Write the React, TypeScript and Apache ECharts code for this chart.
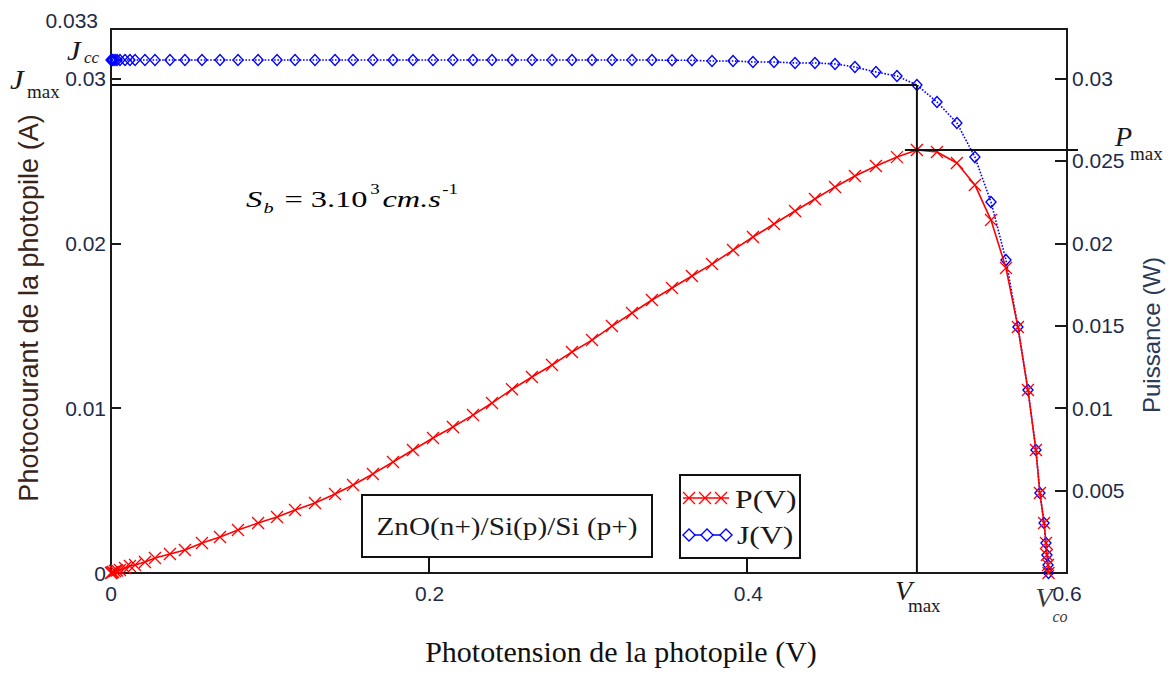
import React, { useEffect, useRef } from "react";
import * as echarts from "echarts";

// Phototension (V)
const voltage = [
  0.0, 0.0006, 0.0013, 0.0025, 0.0038, 0.0056, 0.0088, 0.0119, 0.0151, 0.0213,
  0.0276, 0.037, 0.0464, 0.0571, 0.0684, 0.0797, 0.0923, 0.1042, 0.1155, 0.128,
  0.1406, 0.1519, 0.1644, 0.177, 0.1895, 0.2021, 0.2146, 0.2272, 0.2391, 0.2517,
  0.2642, 0.2768, 0.2893, 0.3019, 0.3144, 0.327, 0.3395, 0.3521, 0.3646, 0.3772,
  0.3904, 0.4029, 0.4161, 0.4293, 0.4418, 0.4544, 0.4669, 0.4801, 0.4933, 0.5058,
  0.5184, 0.5309, 0.5422, 0.5523, 0.5617, 0.5692, 0.5755, 0.5805, 0.583, 0.5856,
  0.5868, 0.5874, 0.5881, 0.5884,
];
// Photocourant J (A)
const current = [
  0.03112, 0.03112, 0.03112, 0.03112, 0.03112, 0.03112, 0.03112, 0.03112, 0.03112, 0.03112,
  0.03112, 0.03112, 0.03112, 0.03112, 0.03112, 0.03112, 0.03112, 0.03112, 0.03112, 0.03112,
  0.03112, 0.03112, 0.03112, 0.03112, 0.03112, 0.03112, 0.03112, 0.03112, 0.03112, 0.03112,
  0.03112, 0.03112, 0.03112, 0.03112, 0.03112, 0.03112, 0.03112, 0.0311, 0.0311, 0.03106,
  0.03106, 0.031, 0.031, 0.03094, 0.03094, 0.03088, 0.03069, 0.03039, 0.03015, 0.0296,
  0.02857, 0.0273, 0.02523, 0.0225, 0.01899, 0.01492, 0.0111, 0.00746, 0.00485, 0.00303,
  0.00182, 0.00109, 0.00049, 0.0,
];
// Puissance P (W)
const power = [
  0.0, 0.00003, 0.00006, 0.00012, 0.00015, 0.00018, 0.0003, 0.00042, 0.00049, 0.00067,
  0.00091, 0.00115, 0.0014, 0.00182, 0.00218, 0.00261, 0.00303, 0.0034, 0.00382, 0.00425,
  0.00479, 0.00534, 0.00601, 0.00673, 0.00746, 0.00819, 0.00886, 0.00958, 0.01031, 0.01115,
  0.01189, 0.01262, 0.01341, 0.01413, 0.01498, 0.01577, 0.01656, 0.01729, 0.01802, 0.01874,
  0.01959, 0.02038, 0.02117, 0.02196, 0.02269, 0.02342, 0.02408, 0.02469, 0.02523, 0.02566,
  0.02554, 0.02487, 0.02354, 0.02141, 0.0185, 0.01492, 0.0111, 0.00746, 0.00485, 0.00303,
  0.00182, 0.00109, 0.00049, 0.0,
];

const xTicks = [0, 0.2, 0.4, 0.6];
const currentTicks = [0, 0.01, 0.02, 0.03, 0.033];
const powerTicks = [0.005, 0.01, 0.015, 0.02, 0.025, 0.03];

const SANS = "'Liberation Sans', Arial, sans-serif";
const SERIF = "'Liberation Serif', 'Times New Roman', serif";
const TICK_COLOR = "#1d2b49";
const RED = "#ff0000";
const BLUE = "#0000ff";
const CROSS = "path://M0,0L10,10M10,0L0,10";

const fmt = (v: number) => String(+v.toFixed(4));

export default function App() {
  const ref = useRef<HTMLDivElement>(null);

  useEffect(() => {
    const chart = echarts.init(ref.current!, null, { renderer: "svg" });
    const xMax = xTicks[xTicks.length - 1];
    const yMax = currentTicks[currentTicks.length - 1];

    chart.setOption({
      animation: false,
      backgroundColor: "#ffffff",
      grid: {
        left: 111,
        right: 105,
        top: 29,
        bottom: 104,
        show: true,
        borderColor: "#1a1a1a",
        borderWidth: 2,
        backgroundColor: "transparent",
      },
      xAxis: {
        type: "value",
        min: 0,
        max: xMax,
        interval: 0.2,
        name: "Phototension de la photopile (V)",
        nameLocation: "middle",
        nameGap: 63,
        nameTextStyle: { fontFamily: SERIF, fontSize: 30, color: "#111", padding: [0, 0, 0, 64] },
        axisLine: { show: true, lineStyle: { color: "#1a1a1a", width: 2 } },
        axisTick: { show: false },
        splitLine: { show: false },
        axisLabel: {
          fontFamily: SANS,
          fontSize: 21,
          color: TICK_COLOR,
          margin: 10,
          formatter: (v: number) => (xTicks.some((t) => Math.abs(t - v) < 1e-9) ? fmt(v) : ""),
        },
      },
      yAxis: [
        {
          type: "value",
          min: 0,
          max: yMax,
          interval: 0.01,
          position: "left",
          name: "Photocourant de la photopile (A)",
          nameLocation: "middle",
          nameGap: 69,
          nameMoveOverlap: false,
          nameTextStyle: { fontFamily: SANS, fontSize: 27, color: "#3a2418", padding: [0, 14, 0, 0] },
          axisLine: { show: true, lineStyle: { color: "#1a1a1a", width: 2 } },
          axisTick: { show: true, inside: true, length: 10, lineStyle: { color: "#1a1a1a", width: 2 } },
          splitLine: { show: false },
          axisLabel: {
            fontFamily: SANS,
            fontSize: 21,
            color: TICK_COLOR,
            margin: 5,
            formatter: (v: number) => {
              if (!currentTicks.some((t) => Math.abs(t - v) < 1e-9)) return "";
              if (Math.abs(v - yMax) < 1e-9) return "{top|" + fmt(v) + "}";
              return fmt(v);
            },
            rich: {
              top: { fontFamily: SANS, fontSize: 21, color: TICK_COLOR, padding: [0, 8, 18, 0] },
            },
          },
        },
        {
          type: "value",
          min: 0,
          max: yMax,
          interval: 0.005,
          position: "right",
          name: "Puissance (W)",
          nameLocation: "middle",
          nameGap: 72,
          nameTextStyle: { fontFamily: SANS, fontSize: 24, color: "#2b3a55", padding: [0, 68, 0, 0] },
          axisLine: { show: true, lineStyle: { color: "#1a1a1a", width: 2 } },
          axisTick: { show: true, inside: true, length: 12, lineStyle: { color: "#1a1a1a", width: 2 } },
          splitLine: { show: false },
          axisLabel: {
            fontFamily: SANS,
            fontSize: 21,
            color: TICK_COLOR,
            margin: 5,
            formatter: (v: number) => (powerTicks.some((t) => Math.abs(t - v) < 1e-9) ? fmt(v) : ""),
          },
        },
      ],
      series: [
        {
          name: "J(V)",
          type: "line",
          yAxisIndex: 0,
          data: voltage.map((v, i) => [v, current[i]]),
          symbol: "diamond",
          symbolSize: [10, 11],
          showSymbol: true,
          showAllSymbol: true,
          lineStyle: { color: BLUE, width: 1.6, type: "dotted" },
          itemStyle: { color: "rgba(255,255,255,0)", borderColor: BLUE, borderWidth: 1.4 },
          z: 3,
        },
        {
          name: "P(V)",
          type: "line",
          yAxisIndex: 1,
          data: voltage.map((v, i) => [v, power[i]]),
          symbol: CROSS,
          symbolSize: 12,
          showSymbol: true,
          showAllSymbol: true,
          lineStyle: { color: RED, width: 1.6 },
          itemStyle: { color: RED, borderColor: RED, borderWidth: 1.3 },
          z: 4,
        },
      ],
    });

    const toPx = (v: number, y: number, axis = 0) =>
      chart.convertToPixel({ xAxisIndex: 0, yAxisIndex: axis }, [v, y]) as number[];

    let iMax = 0;
    power.forEach((p, i) => {
      if (p > power[iMax]) iMax = i;
    });
    const vMax = voltage[iMax];
    const pMax = power[iMax];
    const jMax = current[iMax];
    const jcc = current[0];
    const voc = voltage[voltage.length - 1];

    const origin = toPx(0, 0);
    const corner = toPx(vMax, jMax);
    const pPt = toPx(vMax, pMax, 1);
    const rightX = toPx(xMax, 0)[0];
    const jccPt = toPx(0, jcc);
    const vocPt = toPx(voc, 0);

    const black = "#111111";
    const ln = (x1: number, y1: number, x2: number, y2: number, stroke = black, lineWidth = 2, z = 10) => ({
      type: "line",
      z,
      shape: { x1, y1, x2, y2 },
      style: { stroke, lineWidth },
    });
    const txt = (
      text: string,
      x: number,
      y: number,
      fontSize: number,
      opts: { family?: string; italic?: boolean; color?: string; align?: string; sx?: number } = {}
    ) => ({
      type: "text",
      z: 20,
      x,
      y,
      scaleX: opts.sx || 1,
      style: {
        text,
        fontFamily: opts.family || SERIF,
        fontStyle: opts.italic ? "italic" : "normal",
        fontSize,
        fill: opts.color || "#1a1a1a",
        align: opts.align || "left",
        verticalAlign: "middle",
        textAlign: opts.align || "left",
        textVerticalAlign: "middle",
      },
    });
    const cross = (cx: number, cy: number, s: number) => [
      ln(cx - s, cy - s, cx + s, cy + s, RED, 1.3, 21),
      ln(cx - s, cy + s, cx + s, cy - s, RED, 1.3, 21),
    ];
    const diamond = (cx: number, cy: number, s: number) => ({
      type: "polygon",
      z: 21,
      shape: { points: [[cx, cy - s], [cx + s, cy], [cx, cy + s], [cx - s, cy]] },
      style: { fill: "#ffffff", stroke: BLUE, lineWidth: 1.4 },
    });

    // legend / label boxes
    const b1 = { x: 362, y: 495, w: 290, h: 62 };
    const b2 = { x: 680, y: 475, w: 120, h: 83 };
    const ink = "#1a1a1a";

    const graphic: any[] = [
      // Jmax, Vmax, Pmax guide lines
      ln(origin[0], corner[1], corner[0], corner[1]),
      ln(corner[0], corner[1], corner[0], origin[1]),
      ln(pPt[0] - 12, pPt[1], rightX + 11, pPt[1]),
      // math labels
      txt("J", jccPt[0] - 44, jccPt[1] - 10, 28, { italic: true, sx: 1.1 }),
      txt("cc", jccPt[0] - 27, jccPt[1] - 2, 17, { italic: true }),
      txt("J", origin[0] - 101, corner[1] - 6, 28, { italic: true, sx: 1.1 }),
      txt("max", origin[0] - 84, corner[1] + 6, 19),
      txt("P", rightX + 48, pPt[1] - 13, 28, { italic: true }),
      txt("max", rightX + 63, pPt[1] + 4, 19),
      txt("V", corner[0] - 22, origin[1] + 17, 28, { italic: true }),
      txt("max", corner[0] - 9, origin[1] + 32, 19),
      txt("V", vocPt[0] - 13, origin[1] + 24, 28, { italic: true, color: "#3a3a3a" }),
      txt("co", vocPt[0] + 4, origin[1] + 43, 16, { italic: true, color: "#3a3a3a" }),
      {
        type: "text",
        z: 20,
        x: 246,
        y: 199,
        scaleX: 1.35,
        style: {
          text: "{s|S}{sub|b}{n| = 3.10}{sup|3}{i|cm.s}{sup|-1}",
          verticalAlign: "middle",
          textVerticalAlign: "middle",
          rich: {
            s: { fontFamily: SERIF, fontStyle: "italic", fontSize: 24, lineHeight: 34, color: ink },
            sub: { fontFamily: SERIF, fontStyle: "italic", fontSize: 15, lineHeight: 15, verticalAlign: "bottom", padding: [0, 2, 1, 1], color: ink },
            n: { fontFamily: SERIF, fontSize: 24, lineHeight: 34, color: ink, padding: [0, 1, 0, 0] },
            sup: { fontFamily: SERIF, fontSize: 14, lineHeight: 22, verticalAlign: "top", padding: [0, 2, 0, 1], color: ink },
            i: { fontFamily: SERIF, fontStyle: "italic", fontSize: 24, lineHeight: 34, color: ink },
          },
        },
      },
      // structure box
      {
        type: "rect",
        z: 15,
        shape: { x: b1.x, y: b1.y, width: b1.w, height: b1.h },
        style: { fill: "#ffffff", stroke: black, lineWidth: 2 },
      },
      txt("ZnO(n+)/Si(p)/Si (p+)", b1.x + b1.w / 2, b1.y + b1.h / 2 + 1, 25, { align: "center", sx: 1.17 }),
      ln(b1.x + 67, b1.y + b1.h, b1.x + 67, origin[1]),
      // legend box
      {
        type: "rect",
        z: 15,
        shape: { x: b2.x, y: b2.y, width: b2.w, height: b2.h },
        style: { fill: "#ffffff", stroke: black, lineWidth: 2 },
      },
      ln(b2.x + 3, b2.y + 23, b2.x + 49, b2.y + 23, RED, 1.6, 21),
      ...cross(b2.x + 9, b2.y + 23, 6),
      ...cross(b2.x + 25, b2.y + 23, 6),
      ...cross(b2.x + 41, b2.y + 23, 6),
      ln(b2.x + 5, b2.y + 60, b2.x + 48, b2.y + 60, BLUE, 1.3, 20),
      diamond(b2.x + 9, b2.y + 60, 6),
      diamond(b2.x + 27, b2.y + 60, 6),
      diamond(b2.x + 46, b2.y + 60, 6),
      txt("P(V)", b2.x + 55, b2.y + 24, 26, { sx: 1.22 }),
      txt("J(V)", b2.x + 57, b2.y + 60, 26, { sx: 1.22 }),
      ln(b2.x + 67, b2.y + b2.h, b2.x + 67, origin[1]),
    ];

    chart.setOption({ graphic });

    return () => chart.dispose();
  }, []);

  return (
    <div
      ref={ref}
      style={{ position: "fixed", left: 0, top: 0, width: 1172, height: 677, background: "#fff" }}
    />
  );
}
